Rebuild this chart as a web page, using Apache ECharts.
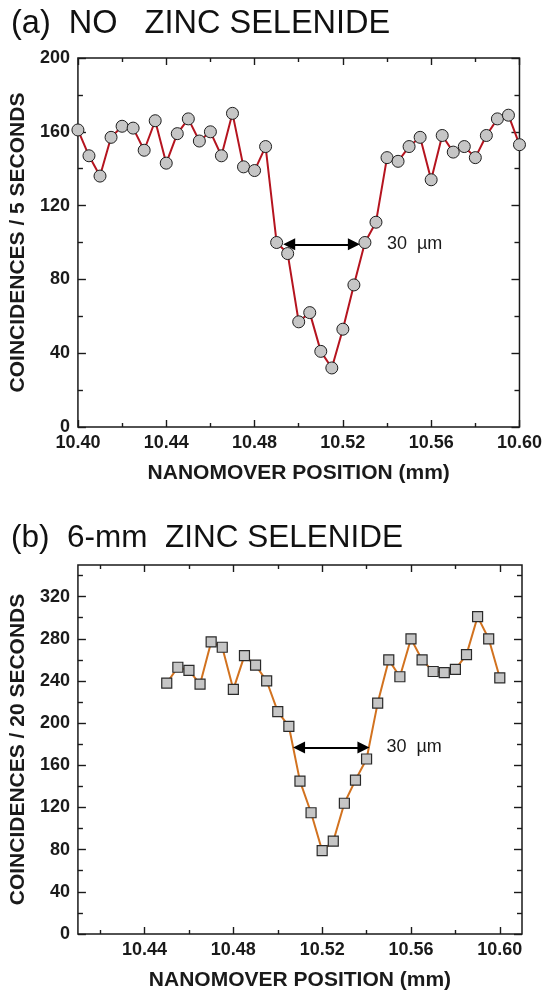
<!DOCTYPE html>
<html>
<head>
<meta charset="utf-8">
<script src="https://cdn.jsdelivr.net/npm/echarts@6/dist/echarts.min.js"></script>
<style>
  html, body { margin: 0; padding: 0; background: #ffffff; }
  #chart { width: 545px; height: 994px; }
</style>
</head>
<body>
<div id="chart"></div>
<script>
// ---- Panel (a): no zinc selenide, coincidences per 5 s ----
const positionsA = [
  10.400, 10.405, 10.410, 10.415, 10.420, 10.425, 10.430, 10.435, 10.440, 10.445,
  10.450, 10.455, 10.460, 10.465, 10.470, 10.475, 10.480, 10.485, 10.490, 10.495,
  10.500, 10.505, 10.510, 10.515, 10.520, 10.525, 10.530, 10.535, 10.540, 10.545,
  10.550, 10.555, 10.560, 10.565, 10.570, 10.575, 10.580, 10.585, 10.590, 10.595,
  10.600
];
const countsA = [
  161, 147, 136, 157, 163, 162, 150, 166, 143, 159,
  167, 155, 160, 147, 170, 141, 139, 152, 100, 94,
  57, 62, 41, 32, 53, 77, 100, 111, 146, 144,
  152, 157, 134, 158, 149, 152, 146, 158, 167, 169,
  153
];
const widthMarkA = [10.4957, 10.5250];   // 30 µm marker ends (mm)
const widthMarkAY = 99;                  // marker height (counts)

// ---- Panel (b): 6-mm zinc selenide, coincidences per 20 s ----
const positionsB = [
  10.450, 10.455, 10.460, 10.465, 10.470, 10.475, 10.480, 10.485, 10.490, 10.495,
  10.500, 10.505, 10.510, 10.515, 10.520, 10.525, 10.530, 10.535, 10.540, 10.545,
  10.550, 10.555, 10.560, 10.565, 10.570, 10.575, 10.580, 10.585, 10.590, 10.595,
  10.600
];
const countsB = [
  238, 253, 250, 237, 277, 272, 232, 264, 255, 240,
  211, 197, 145, 115, 79, 88, 124, 146, 166, 219,
  260, 244, 280, 260, 249, 248, 251, 265, 301, 280,
  243
];
const widthMarkB = [10.5096, 10.5386];
const widthMarkBY = 177;

// ---- Axis ranges and ticks ----
const xRangeA = [10.40, 10.60];
const xMajorA = [10.40, 10.44, 10.48, 10.52, 10.56, 10.60];
const xMinorA = [10.42, 10.46, 10.50, 10.54, 10.58];
const yRangeA = [0, 200];
const yMajorA = [0, 40, 80, 120, 160, 200];
const yMinorA = [20, 60, 100, 140, 180];

const xRangeB = [10.41, 10.61];
const xMajorB = [10.44, 10.48, 10.52, 10.56, 10.60];
const xMinorB = [10.42, 10.46, 10.50, 10.54, 10.58];
const yRangeB = [0, 350];
const yMajorB = [0, 40, 80, 120, 160, 200, 240, 280, 320];
const yMinorB = [20, 60, 100, 140, 180, 220, 260, 300, 340];

const titleA = '(a)  NO   ZINC SELENIDE';
const titleB = '(b)  6-mm  ZINC SELENIDE';
const xName = 'NANOMOVER POSITION (mm)';
const yNameA = 'COINCIDENCES / 5 SECONDS';
const yNameB = 'COINCIDENCES / 20 SECONDS';
const markText = '30  \u00b5m';

// ---- Styling ----
const FONT = '"Liberation Sans", Arial, Helvetica, sans-serif';
const INK = '#1a1a1a';
const tickStyle = { color: INK, width: 1.4 };

function axis(dim, o) {
  const a = {
    type: 'value',
    gridIndex: o.grid,
    position: o.pos,
    min: o.range[0],
    max: o.range[1],
    axisLine: { show: false, onZero: false },
    splitLine: { show: false },
    axisTick: { show: true, inside: true, length: o.len, lineStyle: tickStyle, customValues: o.ticks },
    axisLabel: { show: false },
    axisPointer: { show: false },
    silent: true
  };
  if (o.labels) {
    a.axisLabel = {
      show: true,
      customValues: o.ticks,
      fontFamily: FONT,
      fontWeight: 'bold',
      fontSize: 18,
      color: INK,
      margin: dim === 'x' ? 7 : 8,
      formatter: dim === 'x' ? (v) => v.toFixed(2) : (v) => String(Math.round(v))
    };
  }
  if (o.name) {
    a.name = o.name;
    a.nameLocation = 'middle';
    a.nameGap = o.nameGap;
    a.nameTextStyle = { fontFamily: FONT, fontWeight: 'bold', fontSize: 21, color: INK };
  }
  return a;
}

function xAxesFor(grid, range, major, minor) {
  return [
    axis('x', { grid, pos: 'bottom', range, ticks: major, len: 7, labels: true, name: xName, nameGap: 36 }),
    axis('x', { grid, pos: 'bottom', range, ticks: minor, len: 4 }),
    axis('x', { grid, pos: 'top', range, ticks: major, len: 7 }),
    axis('x', { grid, pos: 'top', range, ticks: minor, len: 4 })
  ];
}
function yAxesFor(grid, range, major, minor, name) {
  return [
    axis('y', { grid, pos: 'left', range, ticks: major, len: 8, labels: true, name, nameGap: 40 }),
    axis('y', { grid, pos: 'left', range, ticks: minor, len: 5 }),
    axis('y', { grid, pos: 'right', range, ticks: major, len: 8 }),
    axis('y', { grid, pos: 'right', range, ticks: minor, len: 5 })
  ];
}

// Double-headed width marker with its caption to the right
function widthMarker(ends, y, gap) {
  return {
    silent: true,
    animation: false,
    symbol: ['triangle', 'triangle'],
    symbolSize: 12,
    lineStyle: { color: '#000', width: 2, type: 'solid' },
    label: {
      show: true,
      position: 'end',
      distance: gap,
      formatter: markText,
      fontFamily: FONT,
      fontSize: 18,
      color: INK
    },
    emphasis: { disabled: true },
    data: [[{ coord: [ends[0], y] }, { coord: [ends[1], y] }]]
  };
}

const zip = (xs, ys) => xs.map((x, i) => [x, ys[i]]);

const titleStyleA = { fontFamily: FONT, fontWeight: 'normal', fontSize: 32.5, color: '#111' };
const titleStyleB = { fontFamily: FONT, fontWeight: 'normal', fontSize: 31.5, color: '#111' };

const option = {
  animation: false,
  backgroundColor: '#ffffff',
  title: [
    { text: titleA, left: 6, top: 3, textStyle: titleStyleA },
    { text: titleB, left: 6, top: 517, textStyle: titleStyleB }
  ],
  grid: [
    { left: 67, top: 58, width: 453, height: 369, show: true, borderColor: INK, borderWidth: 1.5, backgroundColor: 'transparent' },
    { left: 67, top: 565, width: 455, height: 369, show: true, borderColor: INK, borderWidth: 1.5, backgroundColor: 'transparent' }
  ],
  xAxis: [
    ...xAxesFor(0, xRangeA, xMajorA, xMinorA),
    ...xAxesFor(1, xRangeB, xMajorB, xMinorB)
  ],
  yAxis: [
    ...yAxesFor(0, yRangeA, yMajorA, yMinorA, yNameA),
    ...yAxesFor(1, yRangeB, yMajorB, yMinorB, yNameB)
  ],
  series: [
    {
      type: 'line',
      xAxisIndex: 0,
      yAxisIndex: 0,
      data: zip(positionsA, countsA),
      symbol: 'circle',
      symbolSize: 12,
      showAllSymbol: true,
      lineStyle: { color: '#b5141f', width: 2 },
      itemStyle: { color: '#c6c6c6', borderColor: '#1e1e1e', borderWidth: 1 },
      emphasis: { disabled: true },
      markLine: widthMarker(widthMarkA, widthMarkAY, 33),
      z: 3
    },
    {
      type: 'line',
      xAxisIndex: 4,
      yAxisIndex: 4,
      data: zip(positionsB, countsB),
      symbol: 'rect',
      symbolSize: 10,
      showAllSymbol: true,
      lineStyle: { color: '#d2721f', width: 2 },
      itemStyle: { color: '#c6c6c6', borderColor: '#2a2a2a', borderWidth: 1.2 },
      emphasis: { disabled: true },
      markLine: widthMarker(widthMarkB, widthMarkBY, 23),
      z: 3
    }
  ]
};

const chart = echarts.init(document.getElementById('chart'), null, { renderer: 'canvas' });
chart.setOption(option);
</script>
</body>
</html>
